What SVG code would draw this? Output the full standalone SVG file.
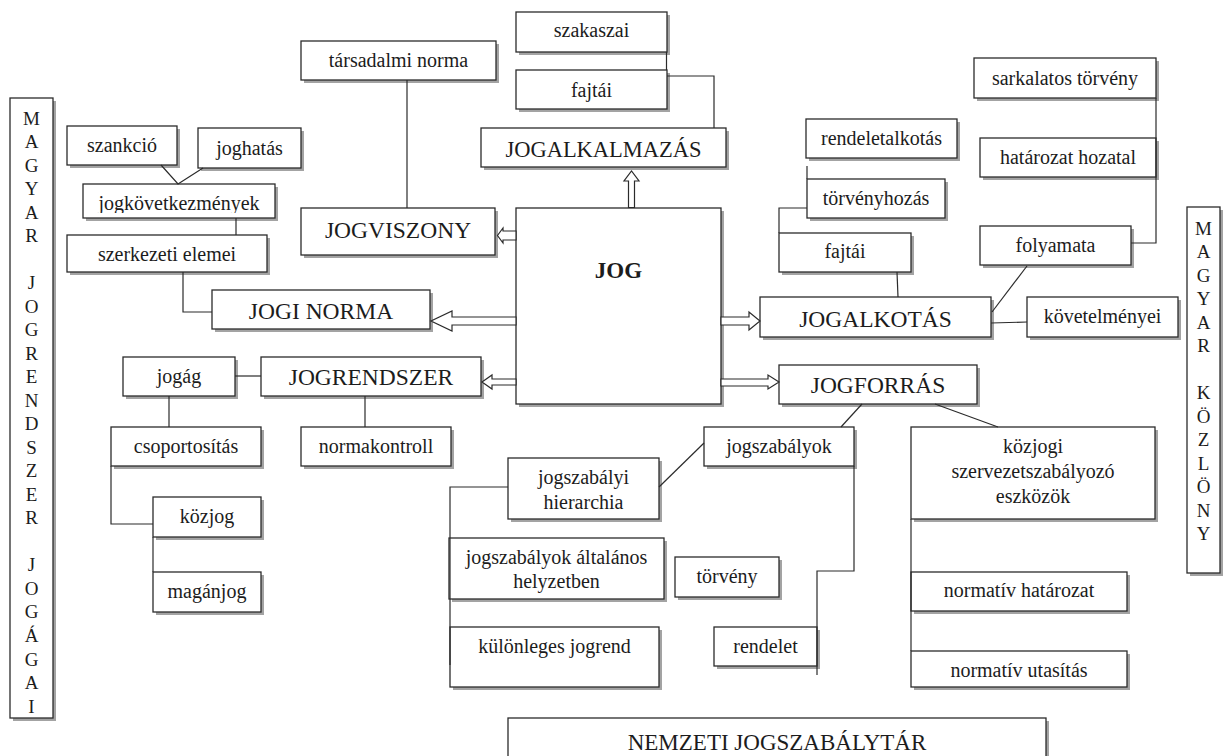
<svg xmlns="http://www.w3.org/2000/svg" width="1223" height="756" viewBox="0 0 1223 756">
<style>
.sh{fill:#a3a3a3}
.b{fill:#fff;stroke:#2b2b2b;stroke-width:1.3}
.t{font-family:"Liberation Serif","Times New Roman",Times,serif;font-size:20px;fill:#1c1c1c;text-anchor:middle}
.T{font-size:23.5px}
.ln{stroke:#2b2b2b;stroke-width:1.2;fill:none}
.ar{fill:#fff;stroke:#2b2b2b;stroke-width:1.2;stroke-linejoin:miter}
</style>
<defs>
<clipPath id="clipJk"><rect x="83" y="184" width="192" height="29"/></clipPath>
</defs>
<rect width="1223" height="756" fill="#fff"/>
<g id="nodes" font-family="Liberation Serif, Times New Roman, serif">
<g id="jogagai"><rect class="sh" x="13" y="101" width="43" height="620"/><rect class="b" x="10" y="98" width="43" height="620"/>
<text class="t" style="font-size:19px"><tspan x="31.5" y="124.5">M</tspan><tspan x="31.5" y="148">A</tspan><tspan x="31.5" y="171.5">G</tspan><tspan x="31.5" y="195">Y</tspan><tspan x="31.5" y="218.6">A</tspan><tspan x="31.5" y="242.1">R</tspan><tspan x="31.5" y="289.1">J</tspan><tspan x="31.5" y="312.7">O</tspan><tspan x="31.5" y="336.2">G</tspan><tspan x="31.5" y="359.7">R</tspan><tspan x="31.5" y="383.2">E</tspan><tspan x="31.5" y="406.7">N</tspan><tspan x="31.5" y="430.3">D</tspan><tspan x="31.5" y="453.8">S</tspan><tspan x="31.5" y="477.3">Z</tspan><tspan x="31.5" y="500.8">E</tspan><tspan x="31.5" y="524.3">R</tspan><tspan x="31.5" y="571.4">J</tspan><tspan x="31.5" y="594.9">O</tspan><tspan x="31.5" y="618.4">G</tspan><tspan x="31.5" y="641.9">Á</tspan><tspan x="31.5" y="665.5">G</tspan><tspan x="31.5" y="689">A</tspan><tspan x="31.5" y="712.5">I</tspan></text></g>
<g id="kozlony"><rect class="sh" x="1190" y="210" width="33" height="366"/><rect class="b" x="1187" y="207" width="33" height="366"/>
<text class="t" style="font-size:19px"><tspan x="1203.5" y="234.5">M</tspan><tspan x="1203.5" y="258">A</tspan><tspan x="1203.5" y="281.5">G</tspan><tspan x="1203.5" y="305">Y</tspan><tspan x="1203.5" y="328.5">A</tspan><tspan x="1203.5" y="352">R</tspan><tspan x="1203.5" y="399">K</tspan><tspan x="1203.5" y="422.5">Ö</tspan><tspan x="1203.5" y="446">Z</tspan><tspan x="1203.5" y="469.5">L</tspan><tspan x="1203.5" y="493">Ö</tspan><tspan x="1203.5" y="516.5">N</tspan><tspan x="1203.5" y="540">Y</tspan></text></g>
<g id="tarsadalmi-norma"><rect class="sh" x="304" y="44" width="195" height="39"/><rect class="b" x="301" y="41" width="195" height="39"/><text class="t" x="398.5" y="67">társadalmi norma</text></g>
<g id="szakaszai"><rect class="sh" x="519" y="15" width="151" height="40"/><rect class="b" x="516" y="12" width="151" height="40"/><text class="t" x="591.5" y="37">szakaszai</text></g>
<g id="fajtai-1"><rect class="sh" x="519" y="73" width="151" height="39"/><rect class="b" x="516" y="70" width="151" height="39"/><text class="t" x="591.5" y="97">fajtái</text></g>
<g id="jogalkalmazas"><rect class="sh" x="484" y="131" width="245" height="39"/><rect class="b" x="481" y="128" width="245" height="39"/><text class="t T" x="603.5" y="157" style="font-size:22.5px">JOGALKALMAZÁS</text></g>
<g id="szankcio"><rect class="sh" x="70" y="129" width="110" height="39"/><rect class="b" x="67" y="126" width="110" height="39"/><text class="t" x="122" y="152">szankció</text></g>
<g id="joghatas"><rect class="sh" x="201" y="131" width="103" height="40"/><rect class="b" x="198" y="128" width="103" height="40"/><text class="t" x="249.5" y="155">joghatás</text></g>
<g id="jogkovetkezmenyek"><rect class="sh" x="86" y="187" width="192" height="34"/><rect class="b" x="83" y="184" width="192" height="34"/><text class="t" x="179" y="210" clip-path="url(#clipJk)">jogkövetkezmények</text></g>
<g id="szerkezeti-elemei"><rect class="sh" x="70" y="238" width="200" height="37"/><rect class="b" x="67" y="235" width="200" height="37"/><text class="t" x="167" y="261">szerkezeti elemei</text></g>
<g id="jogviszony"><rect class="sh" x="304" y="211" width="194" height="47"/><rect class="b" x="301" y="208" width="194" height="47"/><text class="t T" x="398" y="238">JOGVISZONY</text></g>
<g id="jog"><rect class="sh" x="519" y="211" width="205" height="196"/><rect class="b" x="516" y="208" width="205" height="196"/><text class="t" x="618.5" y="278" style="font-size:23px;font-weight:bold">JOG</text></g>
<g id="jogi-norma"><rect class="sh" x="215" y="293" width="218" height="39"/><rect class="b" x="212" y="290" width="218" height="39"/><text class="t T" x="321" y="319">JOGI NORMA</text></g>
<g id="jogrendszer"><rect class="sh" x="264" y="360" width="220" height="39"/><rect class="b" x="261" y="357" width="220" height="39"/><text class="t T" x="371" y="385">JOGRENDSZER</text></g>
<g id="jogag"><rect class="sh" x="126" y="360" width="112" height="39"/><rect class="b" x="123" y="357" width="112" height="39"/><text class="t" x="179" y="383">jogág</text></g>
<g id="csoportositas"><rect class="sh" x="114" y="430" width="150" height="39"/><rect class="b" x="111" y="427" width="150" height="39"/><text class="t" x="186" y="453">csoportosítás</text></g>
<g id="normakontroll"><rect class="sh" x="304" y="430" width="150" height="39"/><rect class="b" x="301" y="427" width="150" height="39"/><text class="t" x="376" y="453">normakontroll</text></g>
<g id="kozjog"><rect class="sh" x="156" y="500" width="108" height="40"/><rect class="b" x="153" y="497" width="108" height="40"/><text class="t" x="207" y="523">közjog</text></g>
<g id="maganjog"><rect class="sh" x="156" y="575" width="108" height="40"/><rect class="b" x="153" y="572" width="108" height="40"/><text class="t" x="207" y="598">magánjog</text></g>
<g id="sarkalatos-torveny"><rect class="sh" x="977" y="61" width="182" height="40"/><rect class="b" x="974" y="58" width="182" height="40"/><text class="t" x="1065" y="85">sarkalatos törvény</text></g>
<g id="rendeletalkotas"><rect class="sh" x="809" y="122" width="151" height="39"/><rect class="b" x="806" y="119" width="151" height="39"/><text class="t" x="881.5" y="145">rendeletalkotás</text></g>
<g id="hatarozat-hozatal"><rect class="sh" x="983" y="141" width="176" height="39"/><rect class="b" x="980" y="138" width="176" height="39"/><text class="t" x="1068" y="164">határozat hozatal</text></g>
<g id="torvenyhozas"><rect class="sh" x="810" y="182" width="138" height="39"/><rect class="b" x="807" y="179" width="138" height="39"/><text class="t" x="876" y="205">törvényhozás</text></g>
<g id="fajtai-2"><rect class="sh" x="782" y="236" width="132" height="39"/><rect class="b" x="779" y="233" width="132" height="39"/><text class="t" x="845" y="258">fajtái</text></g>
<g id="folyamata"><rect class="sh" x="983" y="229" width="151" height="39"/><rect class="b" x="980" y="226" width="151" height="39"/><text class="t" x="1055.5" y="252">folyamata</text></g>
<g id="jogalkotas"><rect class="sh" x="763" y="300" width="231" height="40"/><rect class="b" x="760" y="297" width="231" height="40"/><text class="t T" x="875.5" y="327">JOGALKOTÁS</text></g>
<g id="kovetelmenyei"><rect class="sh" x="1030" y="300" width="151" height="40"/><rect class="b" x="1027" y="297" width="151" height="40"/><text class="t" x="1102.5" y="323">követelményei</text></g>
<g id="jogforras"><rect class="sh" x="782" y="368" width="198" height="39"/><rect class="b" x="779" y="365" width="198" height="39"/><text class="t T" x="878" y="393">JOGFORRÁS</text></g>
<g id="jogszabalyok"><rect class="sh" x="707" y="430" width="150" height="39"/><rect class="b" x="704" y="427" width="150" height="39"/><text class="t" x="779" y="453">jogszabályok</text></g>
<g id="jogszabalyi-hierarchia"><rect class="sh" x="511" y="461" width="151" height="61"/><rect class="b" x="508" y="458" width="151" height="61"/><text class="t"><tspan x="583.5" y="484">jogszabályi</tspan><tspan x="583.5" y="509">hierarchia</tspan></text></g>
<g id="altalanos-helyzetben"><rect class="sh" x="452" y="541" width="215" height="61"/><rect class="b" x="449" y="538" width="215" height="61"/><text class="t"><tspan x="556.5" y="564">jogszabályok általános</tspan><tspan x="556.5" y="588">helyzetben</tspan></text></g>
<g id="kulonleges-jogrend"><rect class="sh" x="453" y="630" width="209" height="60"/><rect class="b" x="450" y="627" width="209" height="60"/><text class="t" x="554.5" y="653">különleges jogrend</text></g>
<g id="torveny"><rect class="sh" x="678" y="560" width="104" height="40"/><rect class="b" x="675" y="557" width="104" height="40"/><text class="t" x="727" y="583">törvény</text></g>
<g id="rendelet"><rect class="sh" x="717" y="630" width="103" height="39"/><rect class="b" x="714" y="627" width="103" height="39"/><text class="t" x="765.5" y="653">rendelet</text></g>
<g id="kozjogi-eszkozok"><rect class="sh" x="914" y="430" width="244" height="92"/><rect class="b" x="911" y="427" width="244" height="92"/><text class="t"><tspan x="1033" y="453">közjogi</tspan><tspan x="1033" y="478">szervezetszabályozó</tspan><tspan x="1033" y="503">eszközök</tspan></text></g>
<g id="normativ-hatarozat"><rect class="sh" x="914" y="575" width="216" height="39"/><rect class="b" x="911" y="572" width="216" height="39"/><text class="t" x="1019" y="597">normatív határozat</text></g>
<g id="normativ-utasitas"><rect class="sh" x="914" y="654" width="216" height="36"/><rect class="b" x="911" y="651" width="216" height="36"/><text class="t" x="1019" y="677">normatív utasítás</text></g>
<g id="nemzeti-jogszabalytar"><rect class="sh" x="511" y="721" width="538" height="50"/><rect class="b" x="508" y="718" width="538" height="50"/><text class="t" x="777" y="750" style="font-size:23px">NEMZETI JOGSZABÁLYTÁR</text></g>
</g>
<g id="connectors">
<path class="ln" d="M407 80V208"/>
<path class="ln" d="M666.5 52V70"/>
<path class="ln" d="M667 76H714V128"/>
<path class="ln" d="M161 165L178 184L203 168"/>
<path class="ln" d="M236 218V235"/>
<path class="ln" d="M183 272V312H212"/>
<path class="ln" d="M235 376H261"/>
<path class="ln" d="M169 396V427"/>
<path class="ln" d="M365 396V427"/>
<path class="ln" d="M111 466V524H153"/>
<path class="ln" d="M153 537V572"/>
<path class="ln" d="M807 166V179"/>
<path class="ln" d="M807 208H779V233"/>
<path class="ln" d="M897 272L898 297"/>
<path class="ln" d="M1156 98V243H1131"/>
<path class="ln" d="M1027 266L992 312"/>
<path class="ln" d="M991 323L1027 322"/>
<path class="ln" d="M862 404L841 427"/>
<path class="ln" d="M935 404L998 427"/>
<path class="ln" d="M704 443L659 487"/>
<path class="ln" d="M508 487H450V665"/>
<path class="ln" d="M854 466V571H817V675"/>
<path class="ln" d="M911 519V651"/>
<polygon class="ar" points="628.5,207.5 628.5,181 624,181 631.5,171 639,181 634.5,181 634.5,207.5"/>
<polygon class="ar" points="516,231 503,231 503,228 497.5,235.5 503,243 503,240 516,240"/>
<polygon class="ar" points="516,317 452,317 452,311 431,321 452,331 452,325 516,325"/>
<polygon class="ar" points="516,379 492,379 492,375 482,382 492,389 492,385 516,385"/>
<polygon class="ar" points="721,317 749,317 749,312 760,321 749,330 749,325 721,325"/>
<polygon class="ar" points="721,379 768,379 768,375 779,382 768,389 768,386 721,386"/>
</g>
</svg>
